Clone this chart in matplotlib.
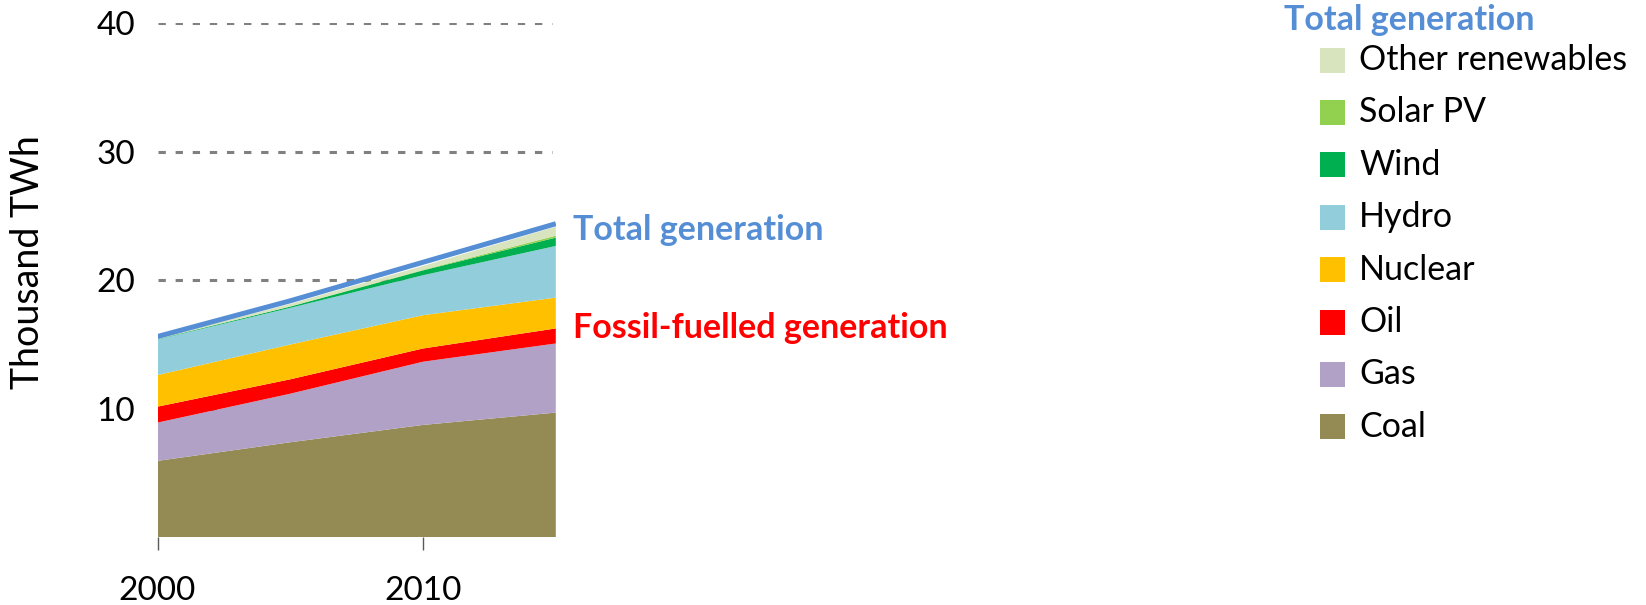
import matplotlib
matplotlib.use("Agg")
import matplotlib.pyplot as plt
from matplotlib.patches import Rectangle

plt.rcParams['font.family'] = ['Lato', 'DejaVu Sans']

# values (thousand TWh)
years = [2000, 2005, 2010, 2015]
coal = [5.94, 7.39, 8.74, 9.70]
gas = [2.98, 3.78, 4.92, 5.38]
oil = [1.24, 1.12, 1.03, 1.17]
nuclear = [2.46, 2.71, 2.59, 2.40]
hydro = [2.77, 2.85, 3.11, 4.02]
wind = [0.03, 0.10, 0.38, 0.65]
solar = [0.00, 0.01, 0.04, 0.15]
other = [0.06, 0.20, 0.30, 0.70]
total_generation = [15.62, 18.40, 21.40, 24.40]

series_names = ["Coal", "Gas", "Oil", "Nuclear", "Hydro", "Wind", "Solar PV", "Other renewables"]
series_colors = ["#948A54", "#B2A1C7", "#FF0000", "#FFC000", "#92CDDC", "#00B050", "#92D050", "#D7E4BD"]

y_ticks = [10, 20, 30, 40]
x_ticks = [2000, 2010]

BLUE = "#558ED5"
RED = "#FF0000"
FS = 24.5

W, H = 1646, 605
fig = plt.figure(figsize=(W / 100, H / 100), dpi=100)

# axes placed to match the reference pixel frame
left_px, right_px, bottom_px, top_px = 157.5, 555.8, 537.2, 23.3
ax = fig.add_axes([left_px / W, (H - bottom_px) / H,
                   (right_px - left_px) / W, (bottom_px - top_px) / H])

ax.stackplot(years, coal, gas, oil, nuclear, hydro, wind, solar, other,
             colors=series_colors, zorder=2, linewidth=0)
ax.plot(years, total_generation, color=BLUE, lw=3.6, zorder=3, solid_capstyle="butt")

for yv in y_ticks:
    ax.axhline(yv, xmin=0, xmax=0.99, color="#808080", lw=2.2,
               linestyle=(0, (2.4, 3.2)), zorder=0)

ax.set_xlim(2000, 2015)
ax.set_ylim(0, 40)
ax.set_yticks(y_ticks)
ax.set_xticks(x_ticks)
ax.tick_params(axis="y", length=0, pad=16, labelsize=24)
ax.tick_params(axis="x", length=9, width=1, color="#595959", pad=19, labelsize=24)
for s in ax.spines.values():
    s.set_visible(False)
ax.set_ylabel("Thousand TWh", fontsize=27)
ax.yaxis.set_label_coords(-0.28, 0.535)

fossil_end = coal[-1] + gas[-1] + oil[-1]
ax.annotate("Total generation", xy=(years[-1], total_generation[-1]),
            xytext=(12.5, -11.5), textcoords="offset points", color=BLUE,
            fontsize=FS, fontweight="bold", va="baseline", ha="left",
            annotation_clip=False)
ax.annotate("Fossil-fuelled generation", xy=(years[-1], fossil_end),
            xytext=(12.5, -7.2), textcoords="offset points", color=RED,
            fontsize=FS, fontweight="bold", va="baseline", ha="left",
            annotation_clip=False)

# manual legend, top to bottom
lg = fig.add_axes([0, 0, 1, 1])
lg.set_xlim(0, W)
lg.set_ylim(H, 0)
lg.axis("off")
lg.text(1284, 30, "Total generation", color=BLUE, fontsize=FS,
        fontweight="bold", va="baseline", ha="left")
row_y = 60
for name, col in zip(series_names[::-1], series_colors[::-1]):
    lg.add_patch(Rectangle((1320, row_y - 12.5), 25, 25, color=col, lw=0))
    lg.text(1359, row_y, name, fontsize=FS, va="center", ha="left")
    row_y += 52.4

fig.savefig("out.png", dpi=100)
